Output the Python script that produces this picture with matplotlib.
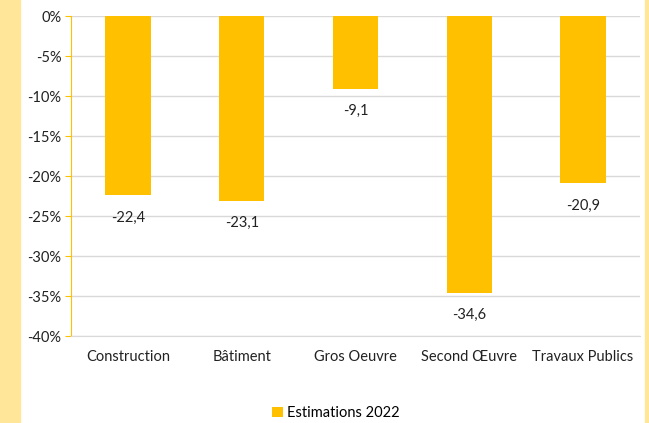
import matplotlib
matplotlib.use("Agg")
import matplotlib.pyplot as plt
from matplotlib.patches import Rectangle
from matplotlib.ticker import FuncFormatter

plt.rcParams['font.family'] = ['Lato', 'DejaVu Sans']

categories = ["Construction", "Bâtiment", "Gros Oeuvre", "Second Œuvre", "Travaux Publics"]
values = [-22.4, -23.1, -9.1, -34.6, -20.9]
series_name = "Estimations 2022"

BAR = "#FFC000"
BAND = "#FFE699"
FS = 10.5

fig = plt.figure(figsize=(6.49, 4.23), dpi=100)
fig.patches.append(Rectangle((0, 0), 20 / 649, 1, transform=fig.transFigure,
                             color=BAND, zorder=0))
fig.patches.append(Rectangle((645 / 649, 0), 4 / 649, 1, transform=fig.transFigure,
                             color=BAND, zorder=0))

ax = fig.add_axes([71 / 649, 1 - 336 / 423, 569 / 649, 320 / 423])
x = range(len(categories))
bars = ax.bar(x, values, width=0.4, color=BAR, label=series_name, zorder=3)

for xi, v in zip(x, values):
    ax.text(xi, v - 1.9, f"{v:.1f}".replace(".", ","), ha="center", va="top",
            fontsize=FS, color="#222222")

ax.set_ylim(-40, 0)
ax.set_xlim(-0.5, len(categories) - 0.5)
ax.set_yticks(range(-40, 1, 5))
ax.yaxis.set_major_formatter(FuncFormatter(lambda v, p: f"{int(v)}%"))
ax.set_xticks(list(x))
ax.set_xticklabels(categories)
ax.tick_params(axis="x", length=0, pad=10, labelsize=FS, labelcolor="#222222")
ax.tick_params(axis="y", length=4, color=BAR, labelsize=FS, pad=3, labelcolor="#222222")
ax.grid(axis="y", color="#D9D9D9", linewidth=1, zorder=0)
for s in ["top", "right"]:
    ax.spines[s].set_visible(False)
ax.spines["bottom"].set_color("#D9D9D9")
ax.spines["left"].set_color(BAR)

fig.legend(handles=[bars], labels=[series_name], loc="center",
           bbox_to_anchor=(336 / 649, 1 - 413 / 423), frameon=False,
           fontsize=FS, handlelength=0.7, handleheight=0.7, handletextpad=0.3)

fig.savefig("out.png", dpi=100)
